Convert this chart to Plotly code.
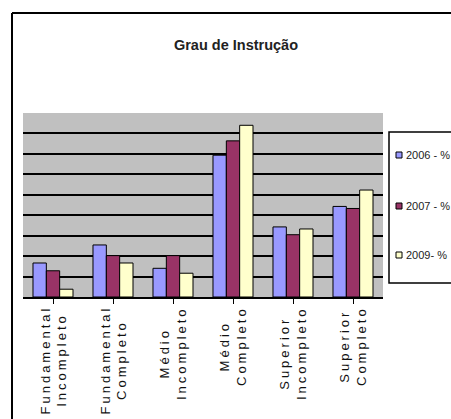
import plotly.graph_objects as go

# grau de instrucao - percentuais por ano
categorias = [
    "Fundamental<br>Incompleto",
    "Fundamental<br>Completo",
    "Médio<br>Incompleto",
    "Médio<br>Completo",
    "Superior<br>Incompleto",
    "Superior<br>Completo",
]
series_nomes = ["2006 - %", "2007 - %", "2009- %"]
v2006 = [8.3, 12.7, 7.0, 34.6, 17.1, 22.1]
v2007 = [6.4, 10.1, 10.1, 38.1, 15.2, 21.6]
v2009 = [1.9, 8.3, 5.8, 41.9, 16.6, 26.1]

cores = ["#9999FF", "#993366", "#FFFFCC"]

W, H = 451, 419
L, R, T, B = 23, 383, 113, 297   # area do grafico em pixels


def px(x):
    return (x - L) / (R - L)


def py(y):
    return (B - y) / (B - T)


def espacado(txt, ls=3):
    return "<br>".join('<span style="letter-spacing:%dpx">%s</span>' % (ls, linha)
                       for linha in txt.split("<br>"))


fig = go.Figure()
for i, (nome, vals) in enumerate(zip(series_nomes, [v2006, v2007, v2009])):
    fig.add_trace(go.Bar(
        x=list(range(len(categorias))),
        y=vals,
        name=nome,
        marker=dict(color=cores[i], line=dict(color="black", width=1)),
        showlegend=False,
    ))

# rotulos do eixo x (verticais, centralizados)
for i, cat in enumerate(categorias):
    fig.add_annotation(
        x=i, y=py(304), xref="x", yref="paper",
        text=espacado(cat), textangle=-90,
        showarrow=False, align="center",
        xanchor="center", yanchor="top",
        font=dict(family="Liberation Sans, Arial", size=13, color="#111"),
    )

# moldura externa
fig.add_shape(type="line", xref="paper", yref="paper",
              x0=px(12), x1=px(12), y0=py(13), y1=py(430),
              line=dict(color="black", width=2))
fig.add_shape(type="line", xref="paper", yref="paper",
              x0=px(12), x1=px(470), y0=py(13), y1=py(13),
              line=dict(color="black", width=2))

# legenda desenhada a mao (caixa, quadradinhos e textos)
fig.add_shape(type="rect", xref="paper", yref="paper",
              x0=px(389), x1=px(480), y0=py(132), y1=py(283),
              line=dict(color="black", width=1.5), fillcolor="white")
leg_y = [155, 206, 255]
for nome, cor, yy in zip(series_nomes, cores, leg_y):
    fig.add_shape(type="rect", xref="paper", yref="paper",
                  x0=px(396), x1=px(402), y0=py(yy - 3), y1=py(yy + 3),
                  line=dict(color="black", width=1), fillcolor=cor)
    fig.add_annotation(x=px(404), y=py(yy), xref="paper", yref="paper",
                       text=nome, showarrow=False, xanchor="left", yanchor="middle",
                       font=dict(family="Liberation Sans, Arial", size=11, color="#222"))

fig.update_layout(
    width=W, height=H,
    margin=dict(l=L, r=W - R, t=T, b=H - B, autoexpand=False),
    paper_bgcolor="white",
    plot_bgcolor="#C0C0C0",
    barmode="group",
    bargap=0.333,
    bargroupgap=0,
    title=dict(text="<b>Grau de Instrução</b>", x=236 / W, xanchor="center",
               y=1 - 45 / H, yanchor="middle",
               font=dict(family="Liberation Sans, Arial", size=14.5, color="#222")),
    showlegend=False,
)
fig.update_xaxes(
    range=[-0.5, 5.5], showticklabels=False, tickvals=list(range(6)),
    tickson="boundaries", ticks="outside", ticklen=5, tickcolor="black",
    showline=True, linecolor="black", linewidth=1.5, showgrid=False,
)
fig.update_yaxes(
    range=[0, 44.9], dtick=5, showticklabels=False, ticks="",
    showgrid=True, gridcolor="black", gridwidth=1.5, zeroline=False,
)

fig.write_html("out.html", config={"displayModeBar": False},
               post_script="document.body.style.margin='0';")
